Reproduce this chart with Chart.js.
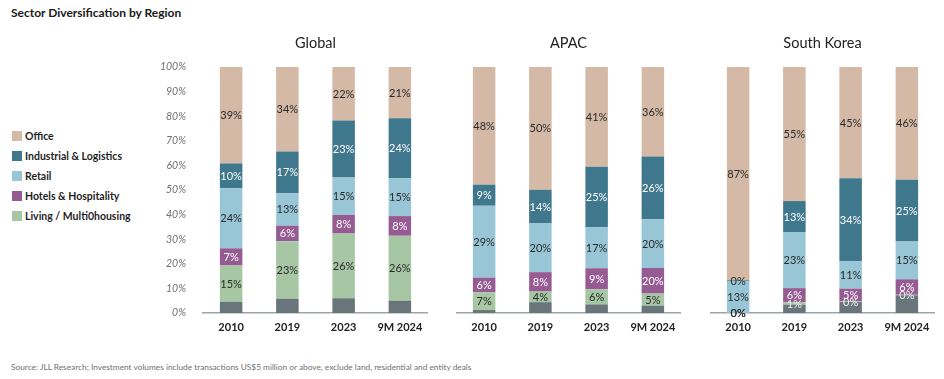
<!DOCTYPE html>
<html><head><meta charset="utf-8">
<script src="https://cdn.jsdelivr.net/npm/chart.js@4.4.1/dist/chart.umd.min.js"></script>
<style>
body{margin:0;width:944px;height:379px;background:#fff;position:relative;overflow:hidden;font-family:Lato,"Open Sans",sans-serif;}
#title{position:absolute;left:11px;top:5px;font-weight:bold;font-size:12px;color:#1a1a1a;white-space:nowrap}
.c{position:absolute;top:0}
#legend{position:absolute;left:12px;top:126px}
.li{height:20px;display:flex;align-items:center;font-weight:bold;font-size:10.5px;color:#1f1f1f;white-space:nowrap}
.sw{width:10px;height:10px;margin-right:3px;flex:none}
#source{position:absolute;left:11px;top:362px;font-size:8.3px;color:#707070;white-space:nowrap}
</style></head>
<body>
<div id="title">Sector Diversification by Region</div>
<div id="legend"></div>
<canvas id="cGlobal" class="c" width="288" height="345" style="left:140px"></canvas>
<canvas id="cApac" class="c" width="225" height="345" style="left:456px"></canvas>
<canvas id="cKorea" class="c" width="225" height="345" style="left:710px"></canvas>
<div id="source">Source: JLL Research; Investment volumes include transactions US$5 million or above, exclude land, residential and entity deals</div>
<script>
// ---- data ----
const categories = ['2010', '2019', '2023', '9M 2024'];
const regions = ['Global', 'APAC', 'South Korea'];
const seriesNames = ['Other', 'Living / Multi0housing', 'Hotels & Hospitality', 'Retail', 'Industrial & Logistics', 'Office'];
const legendOrder = ['Office', 'Industrial & Logistics', 'Retail', 'Hotels & Hospitality', 'Living / Multi0housing'];

// Global
const globalOther      = [4.6, 5.8, 6.0, 5.0];
const globalLiving     = [14.7, 23.4, 26.3, 26.4];
const globalHotels     = [7.0, 6.3, 7.6, 8.0];
const globalRetail     = [24.4, 13.2, 15.2, 15.4];
const globalIndustrial = [10.1, 16.9, 23.2, 24.4];
const globalOffice     = [39.2, 34.4, 21.7, 20.8];

// APAC
const apacOther      = [1.2, 4.4, 3.5, 3.0];
const apacLiving     = [7.2, 4.3, 6.1, 4.9];
const apacHotels     = [6.0, 7.9, 8.6, 10.4];
const apacRetail     = [29.2, 19.8, 16.7, 19.8];
const apacIndustrial = [8.6, 13.7, 24.6, 25.5];
const apacOffice     = [47.8, 49.9, 40.5, 36.4];
const apacHotelsPrinted = [null, null, null, '20%']; // label as printed in the source

// South Korea
const koreaOther      = [0, 3.4, 4.5, 7.2];
const koreaLiving     = [0, 0.9, 0.3, 0.2];
const koreaHotels     = [0, 5.8, 5.1, 6.3];
const koreaRetail     = [13.0, 22.8, 11.2, 15.4];
const koreaIndustrial = [0.3, 12.6, 33.7, 25.1];
const koreaOffice     = [86.7, 54.5, 45.2, 45.8];

// ---- styles ----
const colors = {
  'Other': '#68767b',
  'Living / Multi0housing': '#a6c6a4',
  'Hotels & Hospitality': '#965b93',
  'Retail': '#98c6d6',
  'Industrial & Logistics': '#3f778c',
  'Office': '#d3b9a6'
};
const labelColors = {
  'Living / Multi0housing': '#2a2a2a',
  'Hotels & Hospitality': '#ffffff',
  'Retail': '#2a2a2a',
  'Industrial & Logistics': '#ffffff',
  'Office': '#2a2a2a'
};

// legend
const lg = document.getElementById('legend');
legendOrder.forEach(n => {
  const d = document.createElement('div'); d.className = 'li';
  const s = document.createElement('span'); s.className = 'sw'; s.style.background = colors[n];
  d.appendChild(s); d.appendChild(document.createTextNode(n)); lg.appendChild(d);
});

const labelPlugin = {
  id: 'segLabels',
  afterDatasetsDraw(chart, args, opts) {
    const ctx = chart.ctx;
    ctx.save();
    ctx.font = '11px Lato, "Open Sans", sans-serif';
    ctx.textAlign = 'center';
    ctx.textBaseline = 'middle';
    chart.data.datasets.forEach((ds, di) => {
      if (ds.label === 'Other') return;
      const meta = chart.getDatasetMeta(di);
      meta.data.forEach((el, i) => {
        let txt = Math.round(ds.data[i]) + '%';
        if (ds.printed && ds.printed[i]) txt = ds.printed[i];
        let col = labelColors[ds.label];
        if (opts.livingLight) {
          if (ds.label === 'Living / Multi0housing' && i > 0) col = '#f2f2f2';
          if ((ds.label === 'Hotels & Hospitality' || ds.label === 'Industrial & Logistics') && i === 0) col = '#2a2a2a';
        }
        ctx.fillStyle = col;
        ctx.fillText(txt, el.x, (el.y + el.base) / 2 + 0.5);
      });
    });
    ctx.restore();
  }
};
const titlePlugin = {
  id: 'panelTitle',
  afterDraw(chart, args, opts) {
    const ctx = chart.ctx, a = chart.chartArea;
    ctx.save();
    ctx.font = '14.5px Lato, "Open Sans", sans-serif';
    ctx.fillStyle = '#222';
    ctx.textAlign = 'center';
    ctx.textBaseline = 'middle';
    ctx.fillText(opts.text, (a.left + a.right) / 2, 43);
    ctx.restore();
  }
};

function makeChart(id, region, series, showY, livingLight, printedHotels) {
  const datasets = seriesNames.map((n, k) => ({
    label: n,
    data: series[k],
    backgroundColor: colors[n],
    borderWidth: 0,
    barPercentage: 0.4,
    categoryPercentage: 1.0,
    printed: (n === 'Hotels & Hospitality') ? printedHotels : null
  }));
  return new Chart(document.getElementById(id), {
    type: 'bar',
    data: { labels: categories, datasets },
    options: {
      responsive: false,
      devicePixelRatio: 1,
      animation: false,
      layout: { padding: { top: 67, left: 0, right: 0, bottom: 0 } },
      plugins: {
        legend: { display: false },
        tooltip: { enabled: false },
        segLabels: { livingLight },
        panelTitle: { text: region }
      },
      scales: {
        x: {
          stacked: true,
          grid: { display: false, drawTicks: false },
          border: { display: true, color: '#9ba4a8', width: 1.5 },
          ticks: {
            color: '#222', padding: 8, maxRotation: 0, minRotation: 0, autoSkip: false,
            font: { family: 'Lato', size: 11, weight: 'bold' }
          },
          afterFit: s => { s.height = 32; s.paddingLeft = 0; s.paddingRight = 0; }
        },
        y: {
          stacked: true,
          display: showY,
          min: 0, max: 100,
          grid: { display: false, drawTicks: false },
          border: { display: false },
          ticks: {
            stepSize: 10,
            padding: 17,
            color: '#707070',
            font: { family: 'Lato', size: 10.5, style: 'italic' },
            callback: v => v + '%'
          },
          afterFit: s => { s.width = showY ? 63 : 0; }
        }
      }
    },
    plugins: [labelPlugin, titlePlugin]
  });
}

makeChart('cGlobal', regions[0], [globalOther, globalLiving, globalHotels, globalRetail, globalIndustrial, globalOffice], true, false, null);
makeChart('cApac', regions[1], [apacOther, apacLiving, apacHotels, apacRetail, apacIndustrial, apacOffice], false, false, apacHotelsPrinted);
makeChart('cKorea', regions[2], [koreaOther, koreaLiving, koreaHotels, koreaRetail, koreaIndustrial, koreaOffice], false, true, null);
</script>
</body></html>
